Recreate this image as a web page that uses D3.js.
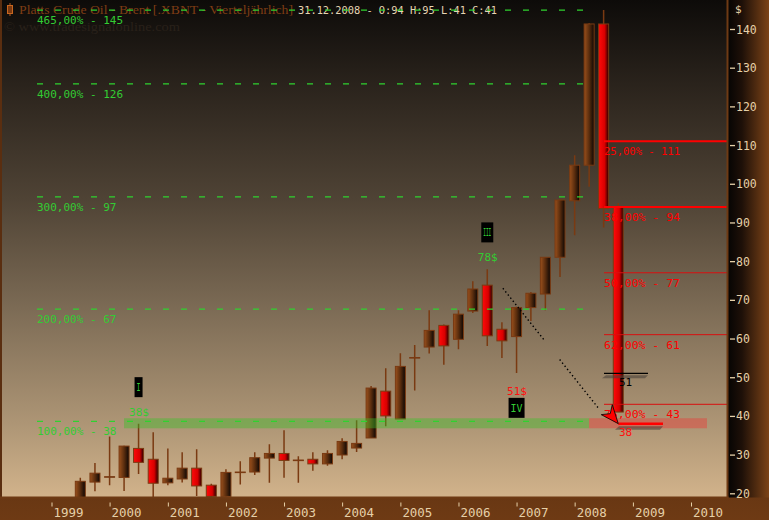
<!DOCTYPE html>
<html><head><meta charset="utf-8">
<script src="https://cdn.jsdelivr.net/npm/d3@7"></script>
<style>html,body{margin:0;padding:0;background:#000;}svg{display:block}</style>
</head><body>
<svg id="chart" width="769" height="520"></svg>
<script>
// ---- data (quarterly OHLC, Platts Brent) ----
const quarters = ["1999-07","1999-10","2000-01","2000-04","2000-07","2000-10","2001-01","2001-04","2001-07","2001-10",
  "2002-01","2002-04","2002-07","2002-10","2003-01","2003-04","2003-07","2003-10","2004-01","2004-04",
  "2004-07","2004-10","2005-01","2005-04","2005-07","2005-10","2006-01","2006-04","2006-07","2006-10",
  "2007-01","2007-04","2007-07","2007-10","2008-01","2008-04","2008-07","2008-10"];
const opens  = [16.0,22.9,24.3,24.1,31.6,28.8,22.7,23.7,26.5,22.1, 19.2,25.5,25.5,29.1,30.3,28.6,28.8,27.6,29.9,31.7,
  34.3,46.4,39.2,55.1,57.8,63.4,59.8,67.1,73.8,62.4, 60.5,68.0,71.5,81.0,95.6,104.8,141.3,94.0];
const highs  = [24.0,27.8,34.7,32.3,38.0,35.8,31.6,30.6,31.4,22.5, 26.2,28.3,30.6,32.7,36.3,29.6,30.6,31.1,34.2,38.9,
  47.7,52.3,56.2,58.3,67.3,63.6,67.3,74.8,77.9,64.2, 68.2,72.0,81.1,96.0,107.4,141.5,144.9,95.0];
const lows   = [15.0,20.5,22.1,20.6,25.0,18.5,22.1,22.8,19.3,17.0, 18.5,22.3,24.7,22.7,24.0,22.7,25.8,27.1,28.8,30.7,
  34.3,37.3,39.2,46.6,56.1,53.2,57.2,66.6,58.1,55.0, 51.1,64.5,67.3,75.9,86.7,99.2,88.7,41.0];
const closes = [23.1,25.2,24.3,32.2,28.0,22.6,23.9,26.5,21.9,19.2, 25.4,25.5,29.2,30.3,28.5,28.6,27.6,30.3,33.4,32.9,
  47.2,40.0,52.8,55.1,62.1,58.1,66.3,72.8,60.7,59.4, 68.0,71.7,81.0,95.8,104.8,141.3,93.6,41.0];

const priceTicks = [20,30,40,50,60,70,80,90,100,110,120,130,140];
const yearTicks = [1999,2000,2001,2002,2003,2004,2005,2006,2007,2008,2009,2010];

const extLevels = [38.6, 67.6, 96.6, 125.8, 144.9];
const extLabels = ["100,00% - 38","200,00% - 67","300,00% - 97","400,00% - 126","465,00% - 145"];
const retLevels = [111, 94, 77, 61, 43];
const retLabels = ["25,00% - 111","38,00% - 94","50,00% - 77","62,00% - 61","75,00% - 43"];
const retStrong = [true, true, false, false, false];

const supportBand = [36.8, 39.4];
const markLow = 38, markMid = 51;
const trendStart = ["2006-10-07", 73.0], trendEnd = ["2008-06-08", 41.5];
const waveQuarters = ["2000-07","2006-07","2007-01"];
const wavePrices = [38, 78, 51];
const waveTexts = ["38$","78$","51$"];
const waveBoxes = ["I","III","IV"];
const waveColors = ["#33cc33","#33cc33","#ff1010"];

const titleText = "Platts Crude Oil - Brent [.XBNT - Vierteljährlich]";
const infoText = "31.12.2008 - O:94 H:95 L:41 C:41";
const copyText = "© www.tradesignalonline.com";

// ---- setup ----
const W = 769, H = 520, PR = 727.5, PB = 497.5;
const svg = d3.select("#chart");
const defs = svg.append("defs");
const parseQ = d3.timeParse("%Y-%m"), parseD = d3.timeParse("%Y-%m-%d");
const x = d3.scaleTime().domain([new Date(1999,0,1), new Date(2010,0,1)]).range([51.5, 691]);
const y = d3.scaleLinear().domain([20,140]).range([493.3, 29]);

function lin(id, x1,y1,x2,y2, stops){
  const g = defs.append("linearGradient").attr("id",id).attr("x1",x1).attr("y1",y1).attr("x2",x2).attr("y2",y2);
  stops.forEach(s=>g.append("stop").attr("offset",s[0]).attr("stop-color",s[1]));
}
lin("bgPlot",0,0,0,1,[[0,"#0d0b09"],[0.17,"#2a231c"],[0.4,"#4f4335"],[0.62,"#7c6b55"],[0.85,"#ad9575"],[1,"#d2b38b"]]);
lin("bgRight",0,0,1,0,[[0,"#050403"],[0.35,"#1e1008"],[1,"#7c4317"]]);
lin("bgBottom",0,0,0,1,[[0,"#060403"],[0.4,"#2a160a"],[1,"#6e3a14"]]);
lin("gUp",0,0,1,0,[[0,"#9a501c"],[0.5,"#5a2d0e"],[1,"#0c0604"]]);
lin("gDown",0,0,1,0,[[0,"#ff0a0a"],[0.6,"#d80000"],[1,"#250000"]]);
defs.append("clipPath").attr("id","plotClip").append("rect").attr("x",0).attr("y",0).attr("width",PR).attr("height",PB);

// backgrounds
svg.append("rect").attr("x",0).attr("y",0).attr("width",W).attr("height",H).attr("fill","url(#bgBottom)");
svg.append("rect").attr("x",PR).attr("y",0).attr("width",W-PR).attr("height",PB).attr("fill","url(#bgRight)");
svg.append("rect").attr("x",0).attr("y",0).attr("width",PR).attr("height",PB).attr("fill","url(#bgPlot)");

const mono = "'DejaVu Sans Mono', monospace";

// title
const tg = svg.append("g");
tg.append("line").attr("x1",10).attr("x2",10).attr("y1",3).attr("y2",16).attr("stroke","#b05a20").attr("stroke-width",1);
tg.append("rect").attr("x",7.5).attr("y",5.5).attr("width",5).attr("height",8).attr("fill","#7a3a12").attr("stroke","#c8661f");
tg.append("text").attr("x",19).attr("y",14).attr("font-family","'Liberation Serif', serif").attr("font-size",13)
  .attr("fill","#7e3d14").attr("textLength",274).attr("lengthAdjust","spacingAndGlyphs").text(titleText);
tg.append("text").attr("x",298).attr("y",14).attr("font-family",mono).attr("font-size",10.5)
  .attr("fill","#e6d6b4").attr("textLength",199).attr("lengthAdjust","spacingAndGlyphs").text(infoText);
tg.append("text").attr("x",4).attr("y",31).attr("font-family","'Liberation Serif', serif").attr("font-size",12)
  .attr("fill","#29211a").attr("textLength",176).attr("lengthAdjust","spacingAndGlyphs").text(copyText);

// candles
const data = quarters.map((q,i)=>({date:parseQ(q), o:opens[i], h:highs[i], l:lows[i], c:closes[i]}));
const cg = svg.append("g").attr("clip-path","url(#plotClip)");
const bw = 10;
cg.selectAll("line.wick").data(data).join("line").attr("class","wick")
  .attr("x1",d=>x(d.date)).attr("x2",d=>x(d.date)).attr("y1",d=>y(d.h)).attr("y2",d=>y(d.l))
  .attr("stroke","#7a3a12").attr("stroke-width",1.5);
cg.selectAll("rect.body").data(data).join("rect").attr("class","body")
  .attr("x",d=>x(d.date)-bw/2).attr("y",d=>y(Math.max(d.o,d.c)))
  .attr("width",bw).attr("height",d=>Math.max(0.6, Math.abs(y(d.o)-y(d.c))))
  .attr("fill",d=>d.c>=d.o ? "url(#gUp)" : "url(#gDown)")
  .attr("stroke","#7a3a12").attr("stroke-width",1);

// retracement lines (over candles; red text vanishes on red bodies)
const rg = svg.append("g");
retLevels.forEach((v,i)=>{
  rg.append("line").attr("x1",604).attr("x2",PR).attr("y1",y(v)).attr("y2",y(v))
    .attr("stroke", retStrong[i] ? "#ff0000" : "#d81010").attr("stroke-width", retStrong[i] ? 2 : 1);
  rg.append("text").attr("x",604).attr("y",y(v)+14).attr("font-family",mono).attr("font-size",11)
    .attr("fill","#ff0000").attr("textLength",76).attr("lengthAdjust","spacingAndGlyphs").text(retLabels[i]);
});

// bands
svg.append("rect").attr("x",124).attr("width",589-124).attr("y",y(supportBand[1])).attr("height",y(supportBand[0])-y(supportBand[1]))
  .attr("fill","rgba(60,190,40,0.42)");
svg.append("rect").attr("x",589).attr("width",707-589).attr("y",y(supportBand[1])).attr("height",y(supportBand[0])-y(supportBand[1]))
  .attr("fill","rgba(240,50,50,0.40)");

// extension lines
const eg = svg.append("g");
extLevels.forEach((v,i)=>{
  eg.append("line").attr("x1",37).attr("x2",583).attr("y1",y(v)).attr("y2",y(v))
    .attr("stroke","#2fd22f").attr("stroke-width",1.3).attr("stroke-dasharray","6,12");
  eg.append("text").attr("x",37).attr("y",y(v)+13.6).attr("font-family",mono).attr("font-size",11)
    .attr("fill","#33cc33").text(extLabels[i]);
});

// trend line (dotted)
const t0 = [x(parseD(trendStart[0])), y(trendStart[1])], t1 = [x(parseD(trendEnd[0])), y(trendEnd[1])];
const lerp = f => [t0[0]+(t1[0]-t0[0])*f, t0[1]+(t1[1]-t0[1])*f];
[[0,0.43],[0.585,0.98]].forEach(s=>{
  const a = lerp(s[0]), b = lerp(s[1]);
  svg.append("line").attr("x1",a[0]).attr("y1",a[1]).attr("x2",b[0]).attr("y2",b[1])
    .attr("stroke","#000").attr("stroke-width",1.4).attr("stroke-dasharray","1.4,2.6");
});

// marker lines 51 and 38
const xQ4 = x(parseQ("2008-10"));
svg.append("polygon").attr("points",[[606,y(markMid)+2],[648,y(markMid)+2],[645,y(markMid)+5],[602,y(markMid)+5]].join(" "))
  .attr("fill","rgba(70,62,55,0.55)");
svg.append("line").attr("x1",604).attr("x2",648).attr("y1",y(markMid)).attr("y2",y(markMid)).attr("stroke","#000").attr("stroke-width",1.2);
svg.append("text").attr("x",619).attr("y",y(markMid)+13).attr("font-family",mono).attr("font-size",11).attr("fill","#000").text(String(markMid));

svg.append("polygon").attr("points",[[619,y(markLow)+2.5],[663,y(markLow)+2.5],[660,y(markLow)+6],[615,y(markLow)+6]].join(" "))
  .attr("fill","rgba(70,62,55,0.55)");
svg.append("line").attr("x1",xQ4).attr("x2",663).attr("y1",y(markLow)).attr("y2",y(markLow)).attr("stroke","#ff0000").attr("stroke-width",2.5);
svg.append("text").attr("x",619).attr("y",y(markLow)+12.5).attr("font-family",mono).attr("font-size",11).attr("fill","#ff1010").text(String(markLow));

// arrow cursor
const tx = xQ4, ty = y(markLow);
svg.append("polygon").attr("points",[[tx,ty],[tx-6,ty-19],[tx-8,ty-10],[tx-17,ty-9]].join(" "))
  .attr("fill","#ff0000").attr("stroke","#000").attr("stroke-width",0.8);

// wave labels
waveQuarters.forEach((q,i)=>{
  const cx = x(parseQ(q));
  const py = y(wavePrices[i]);
  const box = waveBoxes[i];
  const boxW = box==="I"?8:(box==="III"?12:16);
  let textY, boxY;
  if (box==="IV") { textY = py+21.5; boxY = py+24.5; }
  else { textY = py-8; boxY = py-46.5; }
  svg.append("rect").attr("x",cx-boxW/2).attr("y",boxY).attr("width",boxW).attr("height",20).attr("fill","#000");
  svg.append("text").attr("x",cx).attr("y",boxY+14).attr("text-anchor","middle").attr("font-family",mono)
    .attr("font-size",11).attr("fill","#33cc33").attr("textLength",boxW-4).attr("lengthAdjust","spacingAndGlyphs").text(box);
  svg.append("text").attr("x",cx+0.5).attr("y",textY).attr("text-anchor","middle").attr("font-family",mono)
    .attr("font-size",11).attr("fill",waveColors[i]).text(waveTexts[i]);
});

// panel border
svg.append("line").attr("x1",1).attr("x2",1).attr("y1",0).attr("y2",PB).attr("stroke","#5a2e10").attr("stroke-width",2);
svg.append("line").attr("x1",PR).attr("x2",PR).attr("y1",0).attr("y2",PB+1).attr("stroke","#6e3a14").attr("stroke-width",2);
svg.append("line").attr("x1",0).attr("x2",PR+1).attr("y1",PB).attr("y2",PB).attr("stroke","#6e3a14").attr("stroke-width",2);

// right axis
const ra = svg.append("g").attr("transform",`translate(730,0)`)
  .call(d3.axisRight(y).tickValues(priceTicks).tickSize(5).tickPadding(1).tickFormat(d3.format("d")));
ra.select(".domain").remove();
ra.selectAll(".tick line").attr("stroke","#e6d0a8").attr("stroke-width",1.3);
ra.selectAll(".tick text").attr("fill","#e6d0a8").attr("font-family",mono).attr("font-size",11.5).attr("dy","0.35em");
svg.append("text").attr("x",735).attr("y",13).attr("font-family",mono).attr("font-size",11).attr("fill","#e6d0a8").text("$");

// bottom axis
const ba = svg.append("g").attr("transform",`translate(0,502.5)`)
  .call(d3.axisBottom(x).tickValues(yearTicks.map(yv=>new Date(yv,0,1))).tickSize(4).tickFormat(d3.timeFormat("%Y")));
ba.select(".domain").remove();
ba.selectAll(".tick line").attr("stroke","#e6d0a8");
ba.selectAll(".tick text").attr("fill","#e6d0a8").attr("font-family",mono).attr("font-size",12)
  .attr("text-anchor","start").attr("x",1.5).attr("y",14.5).attr("dy",0)
  .attr("textLength",30).attr("lengthAdjust","spacingAndGlyphs");
</script>
</body></html>
